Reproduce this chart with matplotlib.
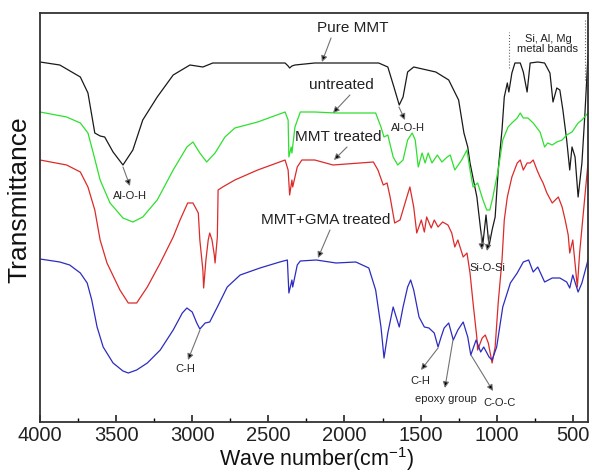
import matplotlib
matplotlib.use("Agg")
import matplotlib.pyplot as plt
from matplotlib.ticker import MultipleLocator

plt.rcParams['font.family'] = ['Liberation Sans', 'DejaVu Sans']
plt.rcParams['mathtext.default'] = 'regular'

# ---------------- data (wavenumber cm-1, transmittance a.u.) ----------------
pure_wn = [4000, 3870, 3735, 3685, 3640, 3605, 3575, 3520, 3455, 3390, 3325, 3230, 3125, 3015,
           2930, 2865, 2620, 2390, 2370, 2360, 2345, 2325, 2195, 1775, 1715, 1675, 1640, 1615,
           1585, 1545, 1400, 1315, 1250, 1215, 1190, 1175, 1130, 1105, 1090, 1070, 1050, 1030,
           1010, 990, 965, 950, 930, 920, 900, 880, 845, 825, 800, 780, 730, 685, 650, 630, 605,
           585, 565, 540, 520, 505, 485, 465, 440, 420, 400]
pure_t = [360, 357, 345, 329, 289, 286, 285, 270, 257, 272, 302, 325, 347, 357,
          355, 359, 359, 359, 356, 354, 356, 357, 359, 359, 355, 335, 317, 325,
          350, 355, 350, 342, 322, 289, 275, 259, 225, 192, 179, 207, 176, 192,
          205, 252, 292, 325, 339, 330, 349, 359, 359, 350, 330, 359, 360, 359, 349, 320, 334,
          332, 312, 282, 252, 275, 265, 225, 259, 309, 367]

untr_wn = [4000, 3825, 3735, 3685, 3650, 3605, 3540, 3455, 3390, 3325, 3230, 3125, 3035, 2995,
           2950, 2905, 2850, 2785, 2720, 2570, 2390, 2370, 2365, 2350, 2345, 2325, 2290, 2195,
           2055, 1795, 1760, 1740, 1715, 1680, 1650, 1615, 1585, 1555, 1535, 1515, 1490, 1470,
           1450, 1425, 1390, 1360, 1325, 1305, 1275, 1230, 1195, 1175, 1155, 1125, 1090, 1065,
           1045, 1025, 990, 960, 925, 900, 865, 845, 825, 795, 760, 715, 685, 665, 635, 605,
           570, 540, 505, 465, 440, 400]
untr_t = [310, 305, 299, 289, 269, 242, 219, 204, 200, 205, 222, 252, 275, 280,
          269, 260, 269, 285, 294, 300, 310, 302, 265, 275, 269, 295, 310, 310,
          309, 309, 295, 285, 287, 265, 257, 262, 282, 289, 282, 255, 269, 259,
          269, 259, 267, 260, 265, 267, 252, 262, 272, 252, 235, 239, 222, 212,
          212, 225, 252, 282, 295, 299, 304, 309, 304, 304, 299, 290, 275, 279, 277, 280,
          282, 287, 290, 299, 302, 309]

trt_wn = [4000, 3825, 3735, 3685, 3640, 3605, 3560, 3475, 3420, 3365, 3295, 3210, 3125, 3080,
          3030, 2995, 2960, 2950, 2930, 2925, 2910, 2895, 2885, 2870, 2855, 2850, 2835, 2830,
          2800, 2720, 2570, 2390, 2370, 2360, 2345, 2340, 2310, 2280, 2195, 2075, 1810, 1780,
          1745, 1720, 1700, 1670, 1635, 1590, 1570, 1545, 1525, 1495, 1475, 1460, 1430, 1410,
          1385, 1355, 1320, 1295, 1275, 1255, 1220, 1195, 1175, 1155, 1130, 1125, 1095, 1075,
          1055, 1030, 1010, 990, 965, 950, 930, 900, 865, 845, 825, 800, 780, 760, 735, 715,
          695, 670, 635, 615, 595, 570, 550, 530, 520, 500, 470, 455, 435, 400]
trt_t = [262, 257, 250, 235, 212, 182, 159, 132, 119, 119, 135, 159, 185, 202,
         219, 219, 209, 182, 152, 134, 162, 182, 189, 182, 167, 159, 185, 232,
         235, 242, 252, 262, 252, 227, 242, 235, 255, 262, 262, 257, 260, 252,
         237, 239, 225, 199, 202, 225, 235, 215, 189, 202, 190, 205, 194, 202,
         195, 200, 197, 189, 175, 182, 165, 169, 149, 119, 84, 72, 84, 87,
         79, 59, 75, 119, 162, 202, 225, 245, 259, 262, 252, 259, 259, 262, 252, 245,
         239, 229, 219, 222, 225, 215, 202, 187, 169, 182, 135, 169, 202, 259]

gma_wn = [4000, 3870, 3805, 3735, 3690, 3660, 3625, 3585, 3520, 3455, 3420, 3365, 3295, 3210,
          3125, 3065, 3035, 3000, 2970, 2950, 2915, 2885, 2835, 2770, 2685, 2555, 2425, 2375,
          2365, 2345, 2340, 2310, 2290, 2185, 2055, 1925, 1840, 1795, 1760, 1740, 1715, 1680,
          1660, 1640, 1615, 1585, 1565, 1545, 1510, 1475, 1445, 1410, 1385, 1365, 1345, 1315,
          1285, 1255, 1220, 1190, 1170, 1135, 1105, 1085, 1050, 1030, 1000, 960, 910, 865, 825,
          790, 760, 730, 685, 635, 585, 540, 520, 500, 465, 440, 400]
gma_t = [163, 160, 157, 149, 139, 122, 95, 75, 59, 51, 49, 52, 59, 72,
         92, 109, 114, 110, 99, 93, 99, 100, 115, 135, 147, 154, 160, 162,
         129, 142, 135, 157, 161, 162, 159, 160, 154, 132, 95, 64, 89, 115,
         105, 95, 115, 135, 142, 132, 105, 95, 94, 89, 75, 85, 94, 99,
         82, 92, 100, 85, 67, 82, 70, 75, 65, 62, 75, 115, 139, 149, 160,
         162, 150, 155, 140, 144, 144, 140, 134, 147, 130, 139, 162]

series = [
    (pure_wn, pure_t, '#1a1a1a'),
    (untr_wn, untr_t, '#2ee02e'),
    (trt_wn, trt_t, '#dd2a2a'),
    (gma_wn, gma_t, '#2c2cc0'),
]

# ---------------- figure ----------------
fig = plt.figure(figsize=(5.92, 4.74), dpi=100)
ax = fig.add_axes([40 / 592, 52 / 474, 548 / 592, 409 / 474])

for wn, t, c in series:
    ax.plot(wn, t, color=c, lw=0.9)

ax.set_xlim(4000, 400)
ax.set_ylim(0, 409)
ax.xaxis.set_major_locator(MultipleLocator(500))
ax.xaxis.set_minor_locator(MultipleLocator(250))
ax.tick_params(axis='x', which='major', direction='in', length=5, width=1.2,
               labelsize=14.5, pad=3, top=False, colors='#222222')
ax.tick_params(axis='x', which='minor', direction='in', length=3, width=1.0, top=False)
ax.set_yticks([])
for s in ax.spines.values():
    s.set_linewidth(1.3)
    s.set_color('#333333')

fig.text(317 / 592, 1 - 459 / 474, 'Wave number(cm$^{-1}$)', fontsize=15.5,
         ha='center', va='center', color='#111111')
fig.text(19 / 592, 1 - 200 / 474, 'Transmittance', fontsize=19, rotation=90,
         ha='center', va='center', color='#111111')

# ---------------- annotations ----------------
def note(txt, xy, xytext, fs=8, tail=None):
    ax.annotate(txt, xy=xytext, ha='center', va='center', fontsize=fs, color='#222222')
    if tail is not None:
        ax.annotate('', xy=xy, xytext=tail,
                    arrowprops=dict(arrowstyle='-|>', color='0.45', fc='black', ec='0.45',
                                    lw=0.8, mutation_scale=9, shrinkA=0, shrinkB=0))

note('Pure MMT', (2148, 360), (1945, 394), fs=11, tail=(2088, 384))
note('untreated', (2075, 309), (2023, 337), fs=11, tail=(1964, 327))
note('MMT treated', (2069, 262), (2042, 285), fs=11, tail=(1983, 275))
note('MMT+GMA treated', (2174, 164), (2121, 202), fs=11, tail=(2095, 192))
note('Al-O-H', (3409, 236), (3409, 226), tail=(3455, 255))
note('Al-O-H', (1602, 302), (1583, 294), tail=(1642, 315))
note('Si-O-Si', (1096, 172), (1064, 154), tail=(1103, 190))
note('', (1064, 171), (1064, 154), tail=(1044, 187))
note('C-H', (3028, 62), (3047, 53), tail=(2949, 92))
note('C-H', (1497, 52), (1504, 41), tail=(1385, 74))
note('epoxy group', (1340, 34), (1333, 23), tail=(1287, 82))
note('C-O-C', (1024, 31), (978, 19), tail=(1169, 67))

ax.text(663, 378, 'Si, Al, Mg\nmetal bands', ha='center', va='center', fontsize=8,
        color='#222222', linespacing=1.1)
ax.plot([920, 920], [354, 390], ls=':', color='0.4', lw=0.8)
ax.plot([420, 420], [342, 402], ls=':', color='0.4', lw=0.8)

fig.savefig('out.png', dpi=100)
